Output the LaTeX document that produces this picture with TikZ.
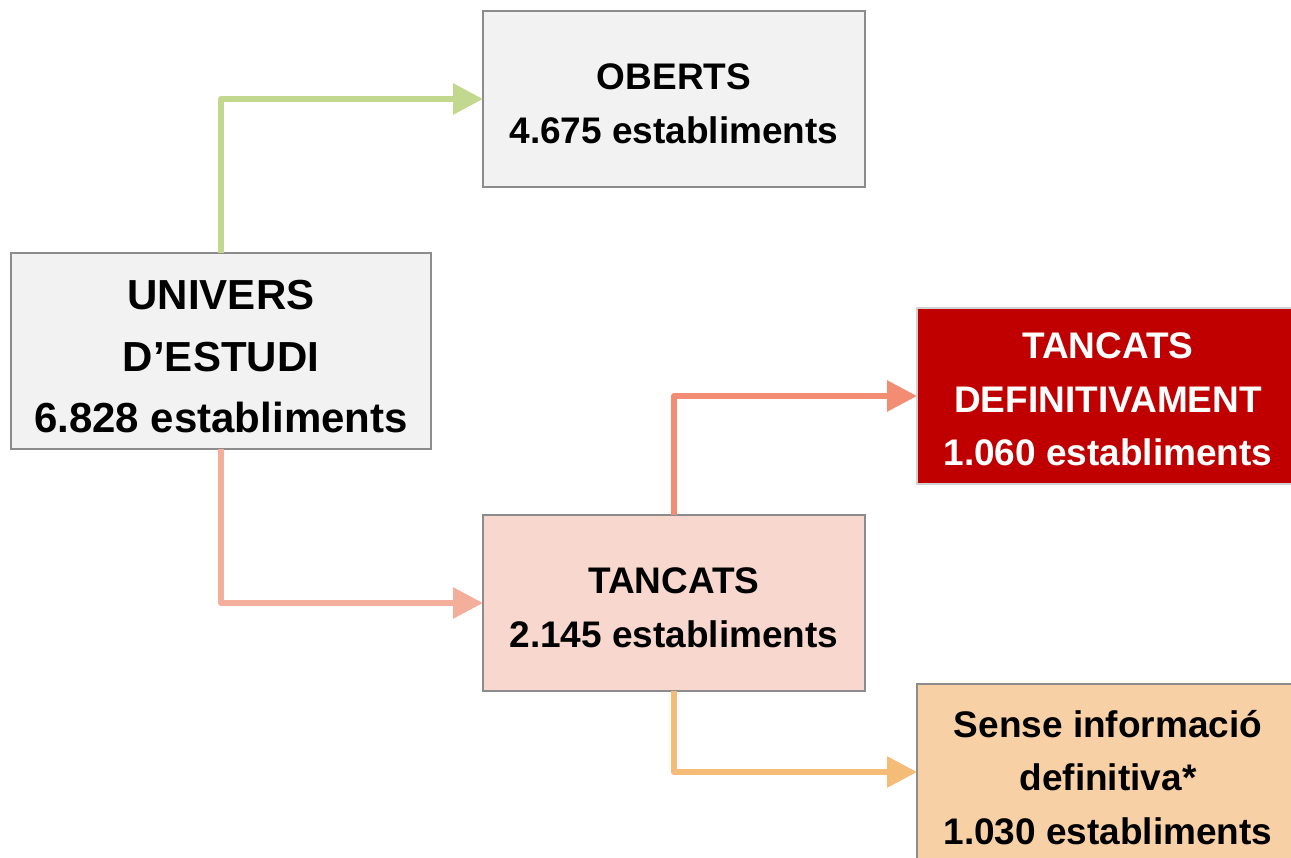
\documentclass[tikz,border=0pt]{standalone}
\usepackage{fontspec}
\setmainfont{Liberation Sans}
\usetikzlibrary{arrows.meta}
\definecolor{boxgray}{HTML}{F2F2F2}
\definecolor{boxline}{HTML}{8C8C8C}
\definecolor{tanfill}{HTML}{F8D7CF}
\definecolor{defred}{HTML}{C00000}
\definecolor{sensefill}{HTML}{F7D0A6}
\definecolor{agreen}{HTML}{C3D88F}
\definecolor{asalmon}{HTML}{F4AF9C}
\definecolor{adark}{HTML}{F28D74}
\definecolor{aorange}{HTML}{F5BC78}
\newcommand{\tp}[1]{\rule{0pt}{#1}}
\tikzset{
  box/.style={draw=boxline, line width=1.5pt, rectangle, inner sep=0pt, outer sep=0pt,
    minimum width=382pt, minimum height=176pt, align=center,
    font=\bfseries\fontsize{37}{53.5}\selectfont},
  bigbox/.style={box, minimum width=420pt, minimum height=196pt,
    font=\bfseries\fontsize{42}{61.5}\selectfont},
  conn/.style={line width=6pt, line join=round, -{Triangle[length=30pt,width=30pt]}}
}
\begin{document}
\begin{tikzpicture}[x=1pt,y=-1pt]
\clip (0,0) rectangle (1291,858);
\fill[white] (0,0) rectangle (1291,858);
\node[box, fill=boxgray] (obe) at (674,99) {\tp{35.5pt}OBERTS\\4.675 establiments};
\node[bigbox, fill=boxgray] (univ) at (221,351) {\tp{41pt}UNIVERS\\D’ESTUDI\\6.828 establiments};
\node[box, fill=defred, draw=boxline!40, text=white] (def) at (1108,396) {\tp{33pt}TANCATS\\DEFINITIVAMENT\\1.060 establiments};
\node[box, fill=tanfill] (tan) at (674,603) {\tp{35.5pt}TANCATS\\2.145 establiments};
\node[box, fill=sensefill] (sense) at (1108,772) {\tp{37.5pt}Sense informació\\definitiva*\\1.030 establiments};
\draw[conn, agreen] (univ.north) |- (obe.west);
\draw[conn, asalmon] (univ.south) |- (tan.west);
\draw[conn, adark] (tan.north) |- (def.west);
\draw[conn, aorange] (tan.south) |- (sense.west);
\end{tikzpicture}
\end{document}
